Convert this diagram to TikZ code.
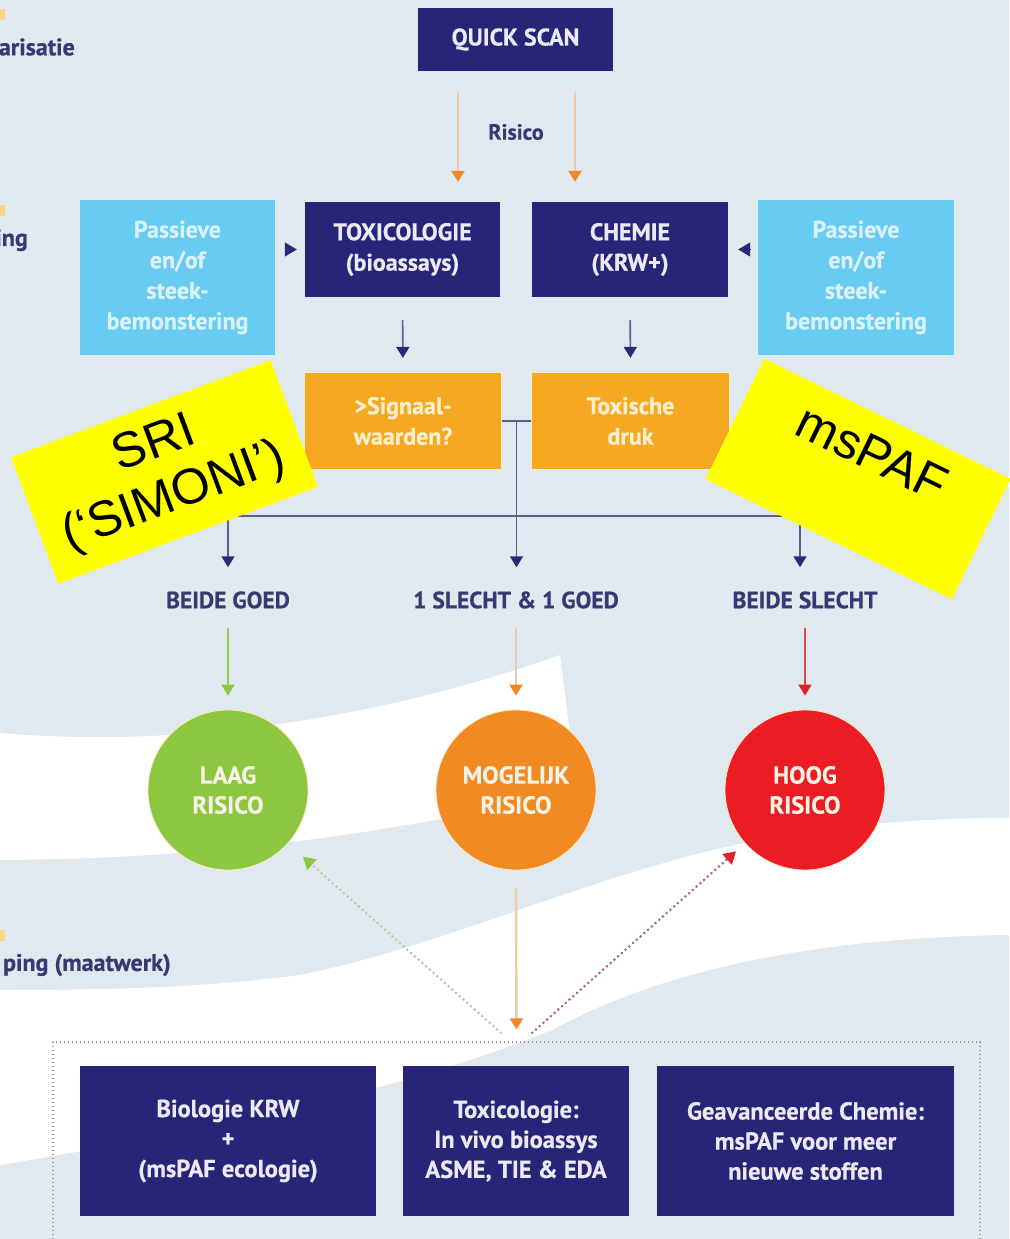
\documentclass[tikz,border=0pt]{standalone}
\usepackage{fontspec}
\setmainfont{Liberation Sans}
\newfontfamily\pts{PT Sans Bold}[FakeBold=0.6]
\usetikzlibrary{arrows.meta,calc}
\definecolor{bg}{RGB}{224,233,240}
\definecolor{navy}{RGB}{40,37,120}
\definecolor{navytext}{RGB}{232,234,244}
\definecolor{cyanb}{RGB}{104,204,242}
\definecolor{cyantext}{RGB}{218,241,252}
\definecolor{orb}{RGB}{247,168,35}
\definecolor{orbedge}{RGB}{252,236,196}
\definecolor{ortext}{RGB}{255,240,205}
\definecolor{lbltext}{RGB}{58,56,114}
\definecolor{treeline}{RGB}{96,92,142}
\definecolor{treetip}{RGB}{43,40,119}
\definecolor{orline}{RGB}{236,202,166}
\definecolor{ortip}{RGB}{240,136,42}
\definecolor{grline}{RGB}{150,200,90}
\definecolor{grtip}{RGB}{141,198,63}
\definecolor{rdline}{RGB}{226,70,76}
\definecolor{rdtip}{RGB}{226,32,44}
\definecolor{cgreen}{RGB}{141,198,63}
\definecolor{corange}{RGB}{241,138,34}
\definecolor{cred}{RGB}{236,28,36}
\definecolor{risktext}{RGB}{246,242,230}
\definecolor{dotgr}{RGB}{185,196,160}
\definecolor{dotrd}{RGB}{165,95,125}
\definecolor{boxdot}{RGB}{150,150,160}
\definecolor{ymark}{RGB}{248,214,130}
\definecolor{hilite}{RGB}{255,255,0}
\begin{document}
\begin{tikzpicture}[x=1pt,y=-1pt,
  boxfont/.style={font=\pts\fontsize{24}{30.5}\selectfont},
  navybox/.style={boxfont, fill=navy, text=navytext, align=center, inner sep=0pt},
  cyanbox/.style={boxfont, fill=cyanb, text=cyantext, align=center, inner sep=0pt, minimum width=195pt, minimum height=155pt},
  orbox/.style={boxfont, fill=orb, draw=orbedge, line width=1.2pt, text=ortext, align=center, inner sep=0pt, minimum width=197pt, minimum height=97pt},
  lbl/.style={font=\pts\fontsize{23.5}{26}\selectfont, text=lbltext, inner sep=0pt},
  edgetext/.style={font=\pts\fontsize{24}{26}\selectfont, text=lbltext, inner sep=0pt, anchor=east},
  risk/.style={circle, minimum size=160pt, inner sep=0pt, text=risktext, align=center, draw=orbedge, line width=0.8pt,
    font=\pts\fontsize{24.5}{30}\selectfont},
  bottombox/.style={navybox, font=\pts\fontsize{24.5}{30}\selectfont, minimum height=150pt},
  yellowbox/.style={fill=hilite, inner sep=0pt, align=center, text=black, font=\fontsize{50}{56}\selectfont},
  treeln/.style={draw=treeline, line width=1.6pt},
  treearrow/.style={treeln, -{Triangle[length=11pt,width=13pt,color=treetip]}},
  orarrow/.style={draw=orline, line width=2.4pt, -{Triangle[length=11pt,width=13pt,color=ortip]}},
  grarrow/.style={draw=grline, line width=1.6pt, -{Triangle[length=11pt,width=13pt,color=grtip]}},
  rdarrow/.style={draw=rdline, line width=1.6pt, -{Triangle[length=11pt,width=13pt,color=rdtip]}},
  sidetip/.style={draw=treetip, line width=1pt, -{Triangle[length=12pt,width=14pt,color=treetip]}},
  dotgreen/.style={draw=dotgr, line width=2pt, dash pattern=on 2pt off 3pt, -{Triangle[length=12pt,width=14pt,color=grtip]}},
  dotred/.style={draw=dotrd, line width=2pt, dash pattern=on 2pt off 3pt, -{Triangle[length=12pt,width=14pt,color=rdtip]}}
]
\useasboundingbox (0,0) rectangle (1009,1239);
\fill[bg] (0,0) rectangle (1009,1239);
% white bands
\fill[white] (0,733) .. controls (200,750) and (400,712) .. (560,655) -- (578,798)
  .. controls (450,812) and (300,858) .. (0,860) -- cycle;
\fill[white] (0,990) .. controls (150,990) and (220,985) .. (300,975)
  .. controls (450,945) and (600,870) .. (760,840)
  .. controls (870,820) and (950,818) .. (1009,818) -- (1009,935)
  .. controls (850,937) and (680,960) .. (552,1030)
  .. controls (380,1100) and (150,1140) .. (0,1165) -- cycle;
% small cropped marks at left edge
\fill[ymark] (0,9) rectangle (5,20);
\fill[ymark] (0,205) rectangle (5,216);
\fill[ymark] (0,930) rectangle (5,941);
% cropped left texts
\node[edgetext] (e1) at (75,47) {arisatie};
\node[edgetext] (e2) at (28,240) {ing};
\node[edgetext] (e3) at (171,965) {ping (maatwerk)};

% top
\node[navybox, minimum width=195pt, minimum height=63pt] (qs) at (515.5,39.5) {QUICK SCAN};
\node[lbl, font=\pts\fontsize{22}{24}\selectfont] (ris) at (516,132) {Risico};

\node[cyanbox] (pl) at (177.5,277.5) {Passieve\\en/of\\steek-\\bemonstering};
\node[navybox, minimum width=195pt, minimum height=95pt] (tox) at (402.5,249.5) {TOXICOLOGIE\\(bioassays)};
\node[navybox, minimum width=196pt, minimum height=95pt] (chem) at (630,249.5) {CHEMIE\\(KRW+)};
\node[cyanbox, minimum width=196pt] (pr) at (856,277.5) {Passieve\\en/of\\steek-\\bemonstering};

\draw[orarrow, shorten <=21pt, shorten >=20pt] ([xshift=-57.5pt]qs.south) -- ([xshift=-57.5pt]qs.south |- tox.north);
\draw[orarrow, shorten <=21pt, shorten >=20pt] ([xshift=59.5pt]qs.south) -- ([xshift=59.5pt]qs.south |- chem.north);

\draw[sidetip, shorten <=10pt, shorten >=8pt] (pl.east |- tox.west) -- (tox.west);
\draw[sidetip, shorten <=8pt, shorten >=10pt] (pr.west |- chem.east) -- (chem.east);

\node[orbox] (sig) at (403,421) {>Signaal-\\waarden?};
\node[orbox, minimum width=198pt] (tdr) at (630.5,421) {Toxische\\druk};

\draw[treearrow, shorten <=23pt, shorten >=14pt] (tox.south) -- (sig.north);
\draw[treearrow, shorten <=23pt, shorten >=14pt] (chem.south) -- (tdr.north);

% decision tree
\coordinate (j) at ($(sig.east)!0.5!(tdr.west)$);
\coordinate (bl) at (228,516);
\coordinate (br) at (800,516);
\node[lbl] (g1) at (228,600) {BEIDE GOED};
\node[lbl] (g2) at (516,600) {1 SLECHT \& 1 GOED};
\node[lbl] (g3) at (805,600) {BEIDE SLECHT};
\draw[treeln] (sig.east) -- (tdr.west);
\draw[treeln] (bl) -- (br);
\draw[treearrow, shorten >=24pt] (j) -- (j |- g2.north);
\draw[treearrow, shorten >=24pt] (bl) -- (bl |- g1.north);
\draw[treearrow, shorten >=24pt] (br) -- (br |- g3.north);

% risk circles
\node[risk, fill=cgreen] (laag) at (228,790) {LAAG\\RISICO};
\node[risk, fill=corange] (mog) at (516,790) {MOGELIJK\\RISICO};
\node[risk, fill=cred] (hoog) at (805,790) {HOOG\\RISICO};
\draw[grarrow, shorten <=19pt, shorten >=14pt] (g1.south) -- (laag.north);
\draw[orarrow, shorten <=19pt, shorten >=14pt] (g2.south) -- (mog.north);
\draw[rdarrow, shorten <=19pt, shorten >=14pt] (g3.south -| hoog.north) -- (hoog.north);

% maatwerk options
\node[draw=boxdot, line width=1.2pt, dash pattern=on 1.4pt off 2.6pt, minimum width=927pt, minimum height=218pt, inner sep=0pt] (opts) at (516.5,1151) {};
\draw[orarrow, shorten <=18pt, shorten >=12pt] (mog.south) -- (opts.north);
\draw[dotgreen, shorten <=12pt, shorten >=20pt] ([xshift=-6pt]opts.north) -- (laag);
\draw[dotred, shorten <=12pt, shorten >=12pt] ([xshift=6pt]opts.north) -- (hoog);

\node[bottombox, minimum width=296pt] (b1) at (228,1141) {Biologie KRW\\+\\(msPAF ecologie)};
\node[bottombox, minimum width=226pt] (b2) at (516,1141) {Toxicologie:\\In vivo bioassys\\ASME, TIE \& EDA};
\node[bottombox, minimum width=297pt] (b3) at (805.5,1141) {Geavanceerde Chemie:\\msPAF voor meer\\nieuwe stoffen};

% yellow highlight labels
\node[yellowbox, minimum width=277pt, minimum height=135pt, rotate=20.5] (sri) at (164.5,472) {SRI\\(‘SIMONI’)};
\node[yellowbox, minimum width=274pt, minimum height=134pt, rotate=-26] (ms) at (858,479) {};
\node[yellowbox, fill=none, rotate=-26] (mst) at (872,453) {msPAF};
\end{tikzpicture}
\end{document}
